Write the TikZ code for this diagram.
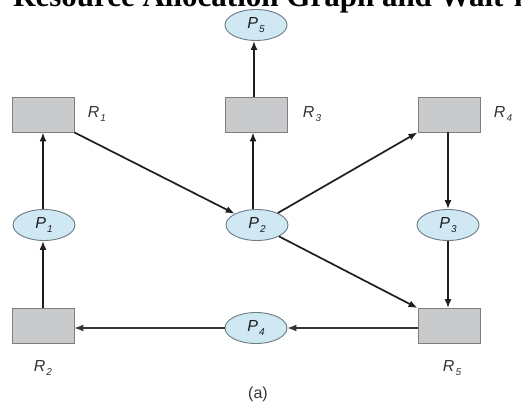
\documentclass[tikz,border=0pt]{standalone}
\usepackage{fontspec}
\setmainfont{Liberation Serif}
\setsansfont{Liberation Sans}
\usetikzlibrary{shapes.geometric,arrows.meta}
\definecolor{rfill}{HTML}{C9CACC}
\definecolor{rdraw}{HTML}{7F7F7F}
\definecolor{pfill}{HTML}{CFE8F4}
\definecolor{pdraw}{HTML}{6C7C86}
\definecolor{ink}{HTML}{1E1E1E}
\newcommand{\lbl}[2]{{\sffamily\itshape #1\kern1pt\raisebox{-0.5ex}{\fontsize{10}{10}\selectfont #2}}}
\tikzset{
  res/.style={draw=rdraw, fill=rfill, minimum width=62pt, minimum height=35pt, inner sep=0pt, line width=0.9pt},
  proc/.style={ellipse, draw=pdraw, fill=pfill, minimum width=62pt, minimum height=31pt, inner sep=0pt, line width=0.9pt, text=ink, font=\fontsize{16}{16}\selectfont},
  lab/.style={text=ink!90, font=\fontsize{16}{16}\selectfont, inner sep=0pt},
  arr/.style={-{Latex[length=9pt,width=7pt]}, line width=1.7pt, draw=ink},
  thinarr/.style={-{Latex[length=9pt,width=7pt]}, line width=1.1pt, draw=ink!90},
}
\begin{document}
\begin{tikzpicture}[x=1pt,y=-1pt]
\useasboundingbox (0,0) rectangle (521,406);
\clip (0,0) rectangle (521,406);
\fill[white] (0,0) rectangle (521,406);
% title (cut off at top)
\node[anchor=base west, inner sep=0pt, font=\fontsize{31}{31}\selectfont\bfseries] (title) at (13,6.5) {Resource Allocation Graph and Wait-for Graph};
% resources
\node[res] (R1) at (43,114.5) {};
\node[res] (R3) at (256,114.5) {};
\node[res] (R4) at (449,114.5) {};
\node[res] (R2) at (43,326) {};
\node[res] (R5) at (449,326) {};
% processes
\node[proc] (P5) at (256,25) {\lbl{P}{5}};
\node[proc] (P1) at (44,225) {\lbl{P}{1}};
\node[proc] (P2) at (257,225) {\lbl{P}{2}};
\node[proc] (P3) at (448,225) {\lbl{P}{3}};
\node[proc] (P4) at (256,328) {\lbl{P}{4}};
% labels
\node[lab] (l1) at (97,114) {\lbl{R}{1}};
\node[lab] (l3) at (312,114) {\lbl{R}{3}};
\node[lab] (l4) at (503,114) {\lbl{R}{4}};
\node[lab] (l2) at (43,368) {\lbl{R}{2}};
\node[lab] (l5) at (452,368) {\lbl{R}{5}};
\node[lab, font=\sffamily\fontsize{16}{16}\selectfont] (cap) at (258,394) {(a)};
% edges
\draw[arr] (R3.north -| 254,0) -- (P5.south -| 254,0);
\draw[arr] (P1.north -| R1) -- (R1);
\draw[arr] (R2.north -| R1) -- (P1.south -| R1);
\draw[arr] (R1.south east) -- (P2);
\draw[arr] (P2.north -| 253,0) -- (R3.south -| 253,0);
\draw[arr] (P2) -- (R4.south west);
\draw[arr] (R4.south -| P3) -- (P3);
\draw[arr] (P3) -- (R5.north -| P3);
\draw[arr] (P2) -- (R5.north west);
\draw[thinarr] (R5.west |- P4) -- (P4);
\draw[thinarr] (P4) -- (R2.east |- P4);
\end{tikzpicture}
\end{document}
